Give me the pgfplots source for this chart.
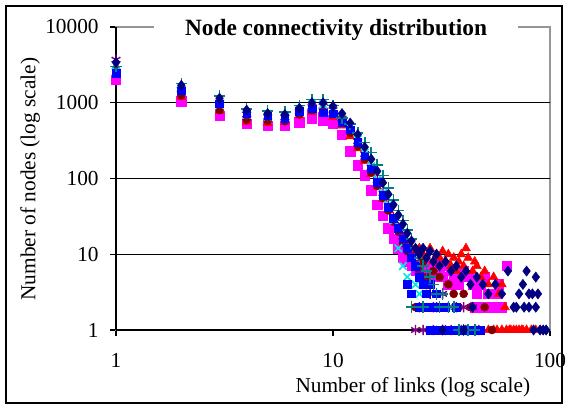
\documentclass[border=0pt]{standalone}
\usepackage{fontspec}
\setmainfont{Liberation Serif}
\usepackage{pgfplots}
\pgfplotsset{compat=1.18}

\definecolor{snavy}{RGB}{0,0,128}
\definecolor{smag}{RGB}{255,0,255}
\definecolor{sred}{RGB}{255,0,0}
\definecolor{scyan}{RGB}{0,230,230}
\definecolor{spurp}{RGB}{128,0,128}
\definecolor{sdred}{RGB}{128,0,0}
\definecolor{steal}{RGB}{0,128,128}
\definecolor{sblue}{RGB}{0,0,255}
\definecolor{boxgray}{RGB}{150,150,150}

\newcommand{\lblfont}{\fontsize{16}{18}\selectfont}
\newcommand{\ttlfont}{\fontsize{17.5}{20}\selectfont\bfseries}

\begin{document}
\begin{tikzpicture}
\useasboundingbox (-87pt,-58.5pt) rectangle (338.25pt,247.5pt);
\draw[line width=0.9pt] (-82.5pt,-54.75pt) rectangle (334.5pt,243pt);
\begin{axis}[
  at={(0pt,0pt)}, anchor=south west,
  scale only axis, width=325.5pt, height=227.25pt,
  xmode=log, ymode=log,
  xmin=1, xmax=100, ymin=1, ymax=10000,
  xtick={1,10,100}, xticklabels={1,10,100},
  ytick={1,10,100,1000,10000}, yticklabels={1,10,100,1000,10000},
  xminorticks=false, yminorticks=false,
  tick align=outside, major tick length=4.5pt,
  xtick pos=bottom, ytick pos=left,
  tick style={black, line width=0.8pt},
  axis line style={boxgray, line width=0.8pt},
  tick label style={font=\lblfont},
  xticklabel style={yshift=-9.5pt},
  yticklabel style={xshift=-5pt},
  clip=false,
  xlabel={Number of links (log scale)},
  xlabel style={at={(axis description cs:0.684,-0.19)}, anchor=center, font=\lblfont},
  ylabel={Number of nodes (log scale)},
  ylabel style={at={(axis description cs:-0.198,0.498)}, anchor=center, font=\lblfont},
]
% gridlines and black axes, under the markers
\draw[black, line width=0.9pt] (axis cs:1,10) -- (axis cs:100,10);
\draw[black, line width=0.9pt] (axis cs:1,100) -- (axis cs:100,100);
\draw[black, line width=0.9pt] (axis cs:1,1000) -- (axis cs:100,1000);
\draw[black, line width=0.9pt] (axis cs:1,1) -- (axis cs:100,1);
\draw[black, line width=0.9pt] (axis cs:1,1) -- (axis cs:1,10000);

% magenta squares
\addplot[only marks, mark=square*, mark size=3.5pt, color=smag] coordinates {
 (1,2000) (2,1050) (3,670) (4,530) (5,500) (6,500) (7,550) (8,620) (9,580) (10,530)
 (11,380) (12,230) (13,150) (14,110) (15,70) (16,45) (17,32) (18,22) (19,16) (20,12)
 (21,9) (22,8) (23,7) (24,6) (25,7) (26,8) (27,6) (28,7) (29,5) (30,8) (31,6) (32,5)
 (33,7) (34,4) (35,6) (36,5) (38,4) (40,6) (42,5) (44,4) (46,3) (48,4) (50,5) (52,3)
 (54,2) (56,3) (58,4) (60,2) (63,7) (50,2) (45,2) (47,2) (8,700) (9,650) (10,600)};
% red triangles
\addplot[only marks, mark=triangle*, mark size=3.8pt, color=sred] coordinates {
 (1,2300) (2,1200) (3,780) (4,560) (5,540) (6,560) (7,680) (8,760) (9,760) (10,650)
 (11,500) (12,360) (13,250) (14,170) (15,115) (16,78) (17,54) (18,38) (19,28) (20,21)
 (21,17) (22,14) (23,12) (24,11) (25,12) (26,10) (27,9) (28,12) (29,8) (30,10) (31,9)
 (32,11) (33,8) (34,10) (35,7) (36,9) (37,6) (38,8) (40,7) (42,9) (44,6) (46,7) (48,5)
 (50,6) (52,4) (55,5) (58,3) (60,4) (62,2) (65,1) (68,1) (70,1) (72,1) (75,1) (78,1)
 (82,1) (86,1) (55,1) (60,1) (52,1) (57,1) (63,1) (66,1) (74,1) (39,10) (45,8) (41,12)};
% dark red circles
\addplot[only marks, mark=*, mark size=3pt, color=sdred] coordinates {
 (1,2800) (2,1250) (3,800) (4,600) (5,580) (6,570) (7,700) (8,800) (9,820) (10,720)
 (11,560) (12,400) (13,270) (14,180) (15,120) (16,80) (17,55) (18,38) (19,27) (20,20)
 (21,14) (22,11) (23,9) (24,7) (25,6) (26,8) (27,5) (28,4) (29,6) (30,3) (31,5) (32,2)
 (34,4) (36,3) (38,2) (40,3) (43,2) (46,1) (50,2) (54,1) (24,2) (27,2) (30,1)};
% purple stars
\addplot[only marks, mark=asterisk, mark size=3.8pt, line width=1.1pt, color=spurp] coordinates {
 (1,3700) (2,1500) (3,1000) (4,700) (5,650) (6,640) (7,760) (8,880) (9,900) (10,800)
 (11,620) (12,450) (13,310) (14,210) (15,140) (16,95) (17,64) (18,44) (19,31) (20,23)
 (21,17) (22,13) (23,10) (24,8) (25,6) (26,5) (27,4) (28,3) (29,2) (30,2) (32,3) (33,1)
 (35,1) (37,2) (39,1) (41,1) (44,2) (47,1) (26,1) (29,1) (25,2) (34,2) (40,2) (24,1)};
% cyan crosses
\addplot[only marks, mark=x, mark size=4pt, line width=1.2pt, color=scyan] coordinates {
 (1,2600) (2,1500) (3,950) (4,700) (5,660) (6,650) (7,800) (8,950) (9,950) (10,850)
 (11,660) (12,480) (13,330) (14,220) (15,145) (16,97) (17,65) (18,45) (19,28) (20,12)
 (21,7) (22,5) (23,3) (24,4) (25,3) (26,2) (27,2) (28,1) (29,1) (31,2) (33,1) (36,1)
 (39,1) (43,1) (35,2) (38,1)};
% blue squares
\addplot[only marks, mark=square*, mark size=2.9pt, color=sblue] coordinates {
 (1,2450) (2,1440) (3,970) (4,715) (5,680) (6,630) (7,780) (8,830) (9,740) (10,715)
 (11,550) (12,440) (13,300) (14,200) (15,135) (16,90) (17,60) (18,42) (19,30) (20,22)
 (21,16) (22,12) (23,9) (24,7) (25,5) (26,4) (27,3) (28,4) (29,2) (30,3) (31,2) (32,1)
 (33,2) (35,1) (37,2) (39,1) (42,1) (45,1) (48,1) (22,4) (23,3) (25,2) (28,1) (30,1)
 (36,1) (27,2)};
% teal plus
\addplot[only marks, mark=+, mark size=4.3pt, line width=1.2pt, color=steal] coordinates {
 (1,3000) (2,1800) (3,1230) (4,830) (5,780) (6,760) (7,920) (8,1100) (9,1100) (10,920)
 (11,630) (12,520) (13,400) (14,300) (15,220) (16,150) (17,110) (18,75) (19,52) (20,38)
 (21,28) (22,21) (23,16) (24,12) (25,9) (26,7) (27,6) (28,5) (29,4) (30,3) (31,2) (32,3)
 (34,2) (36,2) (38,1) (40,1) (42,1) (45,1) (23,2) (26,2)};
% navy diamonds
\addplot[only marks, mark=diamond*, mark size=3.8pt, color=snavy] coordinates {
 (1,3400) (2,1700) (3,1150) (4,800) (5,720) (6,700) (7,850) (8,1000) (9,1000) (10,900)
 (11,720) (12,540) (13,380) (14,260) (15,180) (16,125) (17,88) (18,62) (19,45) (20,33)
 (21,25) (22,19) (23,15) (24,12) (25,10) (26,12) (27,9) (28,11) (29,8) (30,10) (31,7)
 (33,8) (35,6) (37,7) (39,5) (41,6) (43,4) (46,5) (49,4) (52,3) (56,4) (60,3) (64,6)
 (68,2) (72,3) (75,4) (78,6) (80,2) (83,3) (86,2) (88,3) (84,1) (90,1) (93,1) (96,1)
 (70,2) (76,2) (80,3) (86,5) (32,1) (40,1) (44,2)};

\node[fill=white, inner xsep=23pt, inner ysep=1.5pt, font=\ttlfont]
  at (rel axis cs:0.507,0.99) {Node connectivity distribution};
\end{axis}
\end{tikzpicture}
\end{document}
